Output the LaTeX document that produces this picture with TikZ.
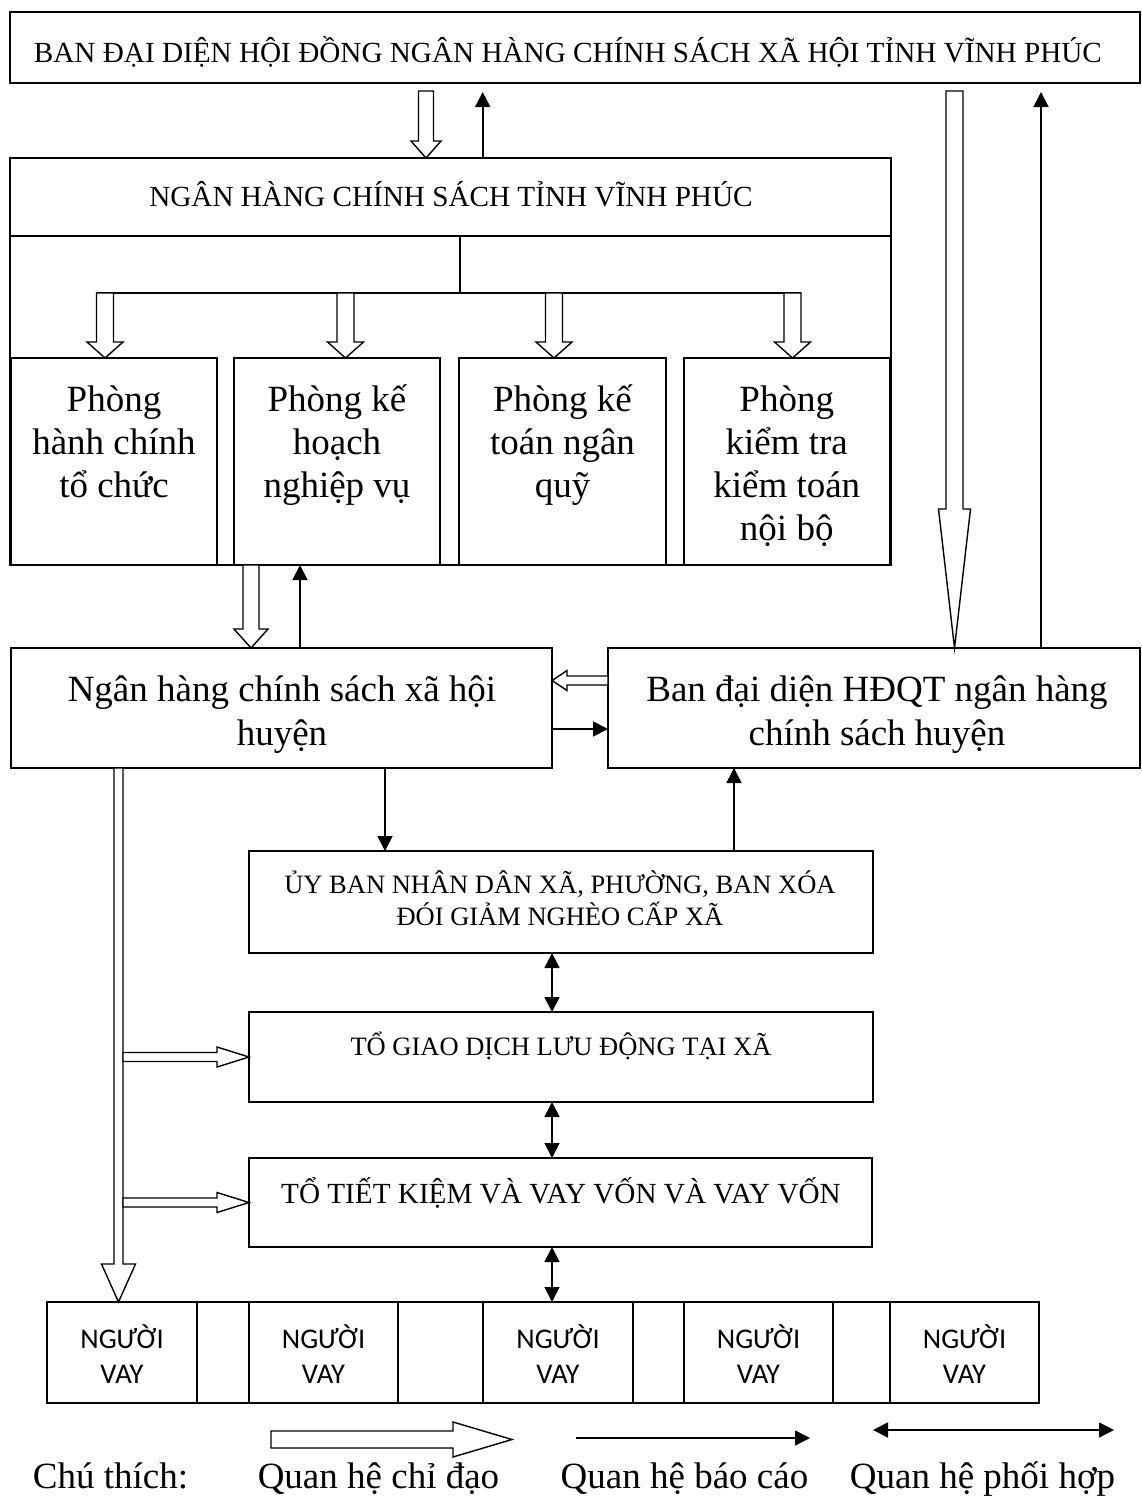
\documentclass[tikz,border=0pt]{standalone}
\usepackage{fontspec}
\setmainfont{Liberation Serif}
\newfontfamily\carlito{Carlito}
\usetikzlibrary{arrows.meta,calc}
\newcommand{\hollowV}[5]{\draw[hollow] let \p1=(#1),\p2=(#2),\n1={ifthenelse(\y2<\y1,1,-1)} in
 ({\x1-#3pt},{\y1}) -- ({\x1-#3pt},{\y2+(\n1)*#5pt}) -- ({\x1-#4pt},{\y2+(\n1)*#5pt}) -- ({\x1},{\y2}) -- ({\x1+#4pt},{\y2+(\n1)*#5pt}) -- ({\x1+#3pt},{\y2+(\n1)*#5pt}) -- ({\x1+#3pt},{\y1}) -- cycle;}
\newcommand{\hollowH}[5]{\draw[hollow] let \p1=(#1),\p2=(#2),\n1={ifthenelse(\x2>\x1,1,-1)} in
 ({\x1},{\y1+#3pt}) -- ({\x2-(\n1)*#5pt},{\y1+#3pt}) -- ({\x2-(\n1)*#5pt},{\y1+#4pt}) -- ({\x2},{\y1}) -- ({\x2-(\n1)*#5pt},{\y1-#4pt}) -- ({\x2-(\n1)*#5pt},{\y1-#3pt}) -- ({\x1},{\y1-#3pt}) -- cycle;}
\begin{document}
\begin{tikzpicture}[x=1pt,y=-1pt,
  box/.style={draw,line width=1.6pt,fill=white,inner sep=0pt,outer sep=0pt},
  lbl/.style={inner sep=0pt,anchor=base,align=center},
  bigtext/.style={font=\fontsize{37}{43}\selectfont},
  bigtextB/.style={font=\fontsize{37}{44}\selectfont},
  captext/.style={font=\fontsize{29.2}{35}\selectfont},
  smalltext/.style={font=\fontsize{26.5}{31.7}\selectfont},
  borrowtext/.style={font=\carlito\fontsize{28.5}{35}\selectfont},
  rep/.style={draw,line width=1.8pt,-{Triangle[length=15pt,width=15pt]}},
  coop/.style={draw,line width=1.8pt,{Triangle[length=15pt,width=15pt]}-{Triangle[length=15pt,width=15pt]}},
  hollow/.style={draw,line width=1.4pt,fill=white,line join=miter},
  bus/.style={draw,line width=1.6pt},
]
\useasboundingbox (0,0) rectangle (1141,1497);

% ---------- boxes ----------
\node[box,minimum width=1130pt,minimum height=71pt] (top) at (575,47.5) {};
\node[box,minimum width=881pt,minimum height=407pt] (prov) at (450.5,361.5) {};
\coordinate (hdr) at (0,236);
\draw[bus] (prov.west |- hdr) -- (prov.east |- hdr);

\node[box,minimum width=206pt,minimum height=207pt] (d1) at (114,461.5) {};
\node[box,minimum width=206pt,minimum height=207pt] (d2) at (337,461.5) {};
\node[box,minimum width=207pt,minimum height=207pt] (d3) at (562.5,461.5) {};
\node[box,minimum width=205.5pt,minimum height=207pt] (d4) at (786.75,461.5) {};

\node[box,minimum width=541pt,minimum height=120pt] (dist) at (281.5,708) {};
\node[box,minimum width=532pt,minimum height=120pt] (ban) at (874,708) {};
\node[box,minimum width=624pt,minimum height=102pt] (ub) at (561,902) {};
\node[box,minimum width=624pt,minimum height=90pt] (gd) at (561,1057) {};
\node[box,minimum width=623pt,minimum height=89pt] (tk) at (560.5,1202.5) {};

\node[box,minimum width=992pt,minimum height=101pt] (row) at (543,1352.5) {};
\node[box,minimum width=150pt,minimum height=101pt] (b1) at (122,1352.5) {};
\node[box,minimum width=149pt,minimum height=101pt] (b2) at (323.5,1352.5) {};
\node[box,minimum width=150pt,minimum height=101pt] (b3) at (558,1352.5) {};
\node[box,minimum width=149pt,minimum height=101pt] (b4) at (758.5,1352.5) {};
\node[box,minimum width=149pt,minimum height=101pt] (b5) at (964.5,1352.5) {};

% ---------- texts (anchor=base is the last line) ----------
\node[lbl,captext] (topT) at (568,62.5) {BAN ĐẠI DIỆN HỘI ĐỒNG NGÂN HÀNG CHÍNH SÁCH XÃ HỘI TỈNH VĨNH PHÚC};
\node[lbl,captext] (provT) at (451,206) {NGÂN HÀNG CHÍNH SÁCH TỈNH VĨNH PHÚC};
\node[lbl,bigtext] (d1T) at (114,497.7) {Phòng\\hành chính\\tổ chức};
\node[lbl,bigtext] (d2T) at (337,497.7) {Phòng kế\\hoạch\\nghiệp vụ};
\node[lbl,bigtext] (d3T) at (562.5,497.7) {Phòng kế\\toán ngân\\quỹ};
\node[lbl,bigtext] (d4T) at (786.75,540.7) {Phòng\\kiểm tra\\kiểm toán\\nội bộ};
\node[lbl,bigtextB] (distT) at (282,745) {Ngân hàng chính sách xã hội\\huyện};
\node[lbl,bigtextB] (banT) at (877,745) {Ban đại diện HĐQT ngân hàng\\chính sách huyện};
\node[lbl,smalltext] (ubT) at (560,925) {ỦY BAN NHÂN DÂN XÃ, PHƯỜNG, BAN XÓA\\ĐÓI GIẢM NGHÈO CẤP XÃ};
\node[lbl,smalltext] (gdT) at (561,1055) {TỔ GIAO DỊCH LƯU ĐỘNG TẠI XÃ};
\node[lbl,captext] (tkT) at (561,1203.3) {TỔ TIẾT KIỆM VÀ VAY VỐN VÀ VAY VỐN};
\node[lbl,borrowtext] (b1T) at (122,1383) {NGƯỜI\\VAY};
\node[lbl,borrowtext] (b2T) at (323.5,1383) {NGƯỜI\\VAY};
\node[lbl,borrowtext] (b3T) at (558,1383) {NGƯỜI\\VAY};
\node[lbl,borrowtext] (b4T) at (758.5,1383) {NGƯỜI\\VAY};
\node[lbl,borrowtext] (b5T) at (964.5,1383) {NGƯỜI\\VAY};

% ---------- x / y references ----------
\coordinate (xA) at (426,0);
\coordinate (xB) at (482.7,0);
\coordinate (xC) at (954.5,0);
\coordinate (xD) at (1041,0);
\coordinate (xE) at (251,0);
\coordinate (xF) at (300,0);
\coordinate (xG) at (385,0);
\coordinate (xH) at (734,0);
\coordinate (xI) at (552,0);
\coordinate (xL) at (118.5,0);
\coordinate (yL) at (0,680.5);
\coordinate (yR) at (0,729);
\coordinate (xV) at (460,0);
\coordinate (ybus) at (0,293);
\coordinate (x1) at (105,0);
\coordinate (x2) at (345.5,0);
\coordinate (x3) at (554,0);
\coordinate (x4) at (792.5,0);

% ---------- top level arrows ----------
\hollowV{$(top.south -| xA)+(0,8)$}{prov.north -| xA}{7.5}{15}{17}
\draw[rep] (prov.north -| xB) -- ($(top.south -| xB)+(0,9)$);
\hollowV{$(top.south -| xC)+(0,8)$}{ban.north -| xC}{8.5}{16}{139}
\draw[rep] (ban.north -| xD) -- ($(top.south -| xD)+(0,9)$);

% ---------- bus to departments ----------
\draw[bus] (hdr -| xV) -- (ybus -| xV);
\draw[bus] ($(ybus -| x1)+(-8.5,0)$) -- ($(ybus -| x4)+(8.5,0)$);
\hollowV{ybus -| x1}{d1.north -| x1}{8.5}{18}{16}
\hollowV{ybus -| x2}{d2.north -| x2}{8.5}{18}{16}
\hollowV{ybus -| x3}{d3.north -| x3}{8.5}{18}{16}
\hollowV{ybus -| x4}{d4.north -| x4}{8.5}{18}{16}

% ---------- district level ----------
\hollowV{d2.south -| xE}{dist.north -| xE}{8}{17}{19}
\draw[rep] (dist.north -| xF) -- (d2.south -| xF);
\hollowH{ban.west |- yL}{dist.east |- yL}{4.5}{10}{15}
\draw[rep] (dist.east |- yR) -- (ban.west |- yR);
\draw[rep] (dist.south -| xG) -- (ub.north -| xG);
\draw[rep] (ub.north -| xH) -- (ban.south -| xH);

% ---------- commune level ----------
\draw[coop] (ub.south -| xI) -- (gd.north -| xI);
\draw[coop] (gd.south -| xI) -- (tk.north -| xI);
\draw[coop] (tk.south -| xI) -- (row.north -| xI);

\hollowV{dist.south -| xL}{row.north -| xL}{4.5}{17}{38}
\hollowH{$(gd.west -| xL)+(4.5,0)$}{gd.west}{4.5}{10}{32}
\hollowH{$(tk.west -| xL)+(4.5,0)$}{tk.west}{4.5}{10}{32}

% ---------- legend ----------
\coordinate (la) at (271,1439.5);
\coordinate (lb) at (512,1439.5);
\coordinate (lc) at (576,1438);
\coordinate (ld) at (810,1438);
\coordinate (le) at (873,1430);
\coordinate (lf) at (1114,1430);
\hollowH{la}{lb}{8.5}{17.5}{59}
\draw[rep] (lc) -- (ld);
\draw[coop] (le) -- (lf);
\node[lbl,bigtext] (legT) at (110.5,1488) {Chú thích:};
\node[lbl,bigtext] (leg1) at (378.5,1488) {Quan hệ chỉ đạo};
\node[lbl,bigtext] (leg2) at (684.5,1488) {Quan hệ báo cáo};
\node[lbl,bigtext] (leg3) at (982.5,1488) {Quan hệ phối hợp};
\end{tikzpicture}
\end{document}
